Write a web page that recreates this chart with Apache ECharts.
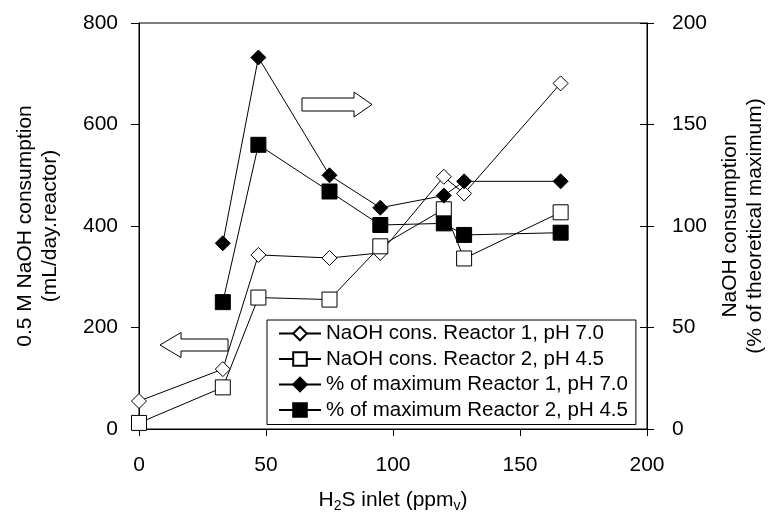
<!doctype html>
<html>
<head>
<meta charset="utf-8">
<title>NaOH consumption</title>
<script src="https://cdn.jsdelivr.net/npm/echarts@6/dist/echarts.min.js"></script>
<style>
  html, body { margin: 0; padding: 0; background: #fff; }
  #main { width: 774px; height: 513px; }
</style>
</head>
<body>
<div id="main"></div>
<script>
// H2S inlet (ppmv)
var h2s = [0, 33, 47, 75, 95, 120, 128, 166];
// left axis: mL/day.reactor
var consR1 = [55, 118, 343, 337, 347, 497, 464, 681];
var consR2 = [12, 82, 259, 255, 360, 433, 336, 427];
// right axis: % of theoretical maximum (no value at 0 ppm)
var pctR1 = [null, 91.5, 183, 125, 109, 115, 122, 122];
var pctR2 = [null, 62.5, 140, 117, 100.5, 101.3, 95.6, 96.7];

var names = [
    'NaOH cons. Reactor 1, pH 7.0',
    'NaOH cons. Reactor 2, pH 4.5',
    '% of maximum Reactor 1, pH 7.0',
    '% of maximum Reactor 2, pH 4.5'
];

var font = 'Liberation Sans, Arial, sans-serif';

function pairs(ys) {
    var out = [];
    for (var i = 0; i < h2s.length; i++) {
        if (ys[i] != null) out.push([h2s[i], ys[i]]);
    }
    return out;
}

function mkSeries(name, ys, axis, symbol, filled) {
    return {
        name: name,
        type: 'line',
        yAxisIndex: axis,
        data: pairs(ys),
        symbol: symbol,
        symbolSize: 15,
        showAllSymbol: true,
        lineStyle: { color: '#000', width: 1 },
        itemStyle: {
            color: filled ? '#000' : '#fff',
            borderColor: '#000',
            borderWidth: 1,
            opacity: 1
        },
        emphasis: { disabled: true }
    };
}

var chart = echarts.init(document.getElementById('main'));
chart.setOption({
    animation: false,
    textStyle: { fontFamily: font, color: '#000' },
    grid: {
        left: 139, right: 127, top: 23, bottom: 84,
        outerBoundsMode: 'none',
        show: true, borderColor: '#000', borderWidth: 1, backgroundColor: 'transparent'
    },
    legend: {
        orient: 'vertical',
        left: 267, top: 320,
        padding: [3, 8, 4, 11],
        borderColor: '#000', borderWidth: 1,
        itemWidth: 42, itemHeight: 17, itemGap: 4.5,
        textStyle: { fontSize: 20.5, fontFamily: font, color: '#000', lineHeight: 20 },
        data: names
    },
    xAxis: {
        type: 'value', min: 0, max: 200, interval: 50,
        name: '{a|H}{sub|2}{a|S inlet (ppm}{sub|v}{a|)}',
        nameLocation: 'middle', nameGap: 58,
        nameTextStyle: {
            rich: {
                a: { fontSize: 21, lineHeight: 26, fontFamily: font, color: '#000' },
                sub: { fontSize: 14, lineHeight: 14, padding: [12, 0, 0, 0], fontFamily: font, color: '#000' }
            }
        },
        axisLine: { lineStyle: { color: '#000', width: 1 } },
        axisTick: { length: 7, lineStyle: { color: '#000' } },
        axisLabel: { fontSize: 21, color: '#000', margin: 26 },
        splitLine: { show: false }
    },
    yAxis: [{
        type: 'value', min: 0, max: 800, interval: 200, position: 'left',
        name: '0.5 M NaOH consumption\n(mL/day.reactor)',
        nameLocation: 'middle', nameGap: 76,
        nameTextStyle: { fontSize: 21, lineHeight: 25, color: '#000' },
        axisLine: { show: true, lineStyle: { color: '#000', width: 1 } },
        axisTick: { show: true, length: 8, lineStyle: { color: '#000' } },
        axisLabel: { fontSize: 21, color: '#000', margin: 21 },
        splitLine: { show: false }
    }, {
        type: 'value', min: 0, max: 200, interval: 50, position: 'right',
        name: 'NaOH consumption\n(% of theoretical maximum)',
        nameLocation: 'middle', nameGap: 68,
        nameTextStyle: { fontSize: 21, lineHeight: 25, color: '#000' },
        axisLine: { show: true, lineStyle: { color: '#000', width: 1 } },
        axisTick: { show: true, length: 7, lineStyle: { color: '#000' } },
        axisLabel: { fontSize: 21, color: '#000', margin: 25 },
        splitLine: { show: false }
    }, {
        // inner half of the crossing ticks on the right axis
        type: 'value', min: 0, max: 200, interval: 50, position: 'right',
        axisLine: { show: false },
        axisTick: { show: true, inside: true, length: 7, lineStyle: { color: '#000' } },
        axisLabel: { show: false },
        splitLine: { show: false }
    }],
    series: [
        mkSeries(names[0], consR1, 0, 'diamond', false),
        mkSeries(names[1], consR2, 0, 'rect', false),
        mkSeries(names[2], pctR1, 1, 'diamond', true),
        mkSeries(names[3], pctR2, 1, 'rect', true)
    ],
    graphic: [{
        // arrow pointing to the right axis
        type: 'polygon',
        shape: { points: [[302, 98], [354, 98], [354, 92], [372, 104.5], [354, 117], [354, 111], [302, 111]] },
        style: { fill: '#fff', stroke: '#000', lineWidth: 1 }
    }, {
        // arrow pointing to the left axis
        type: 'polygon',
        shape: { points: [[228, 339], [181, 339], [181, 332.5], [160, 345], [181, 357.5], [181, 351], [228, 351]] },
        style: { fill: '#fff', stroke: '#000', lineWidth: 1 }
    }]
});
</script>
</body>
</html>
